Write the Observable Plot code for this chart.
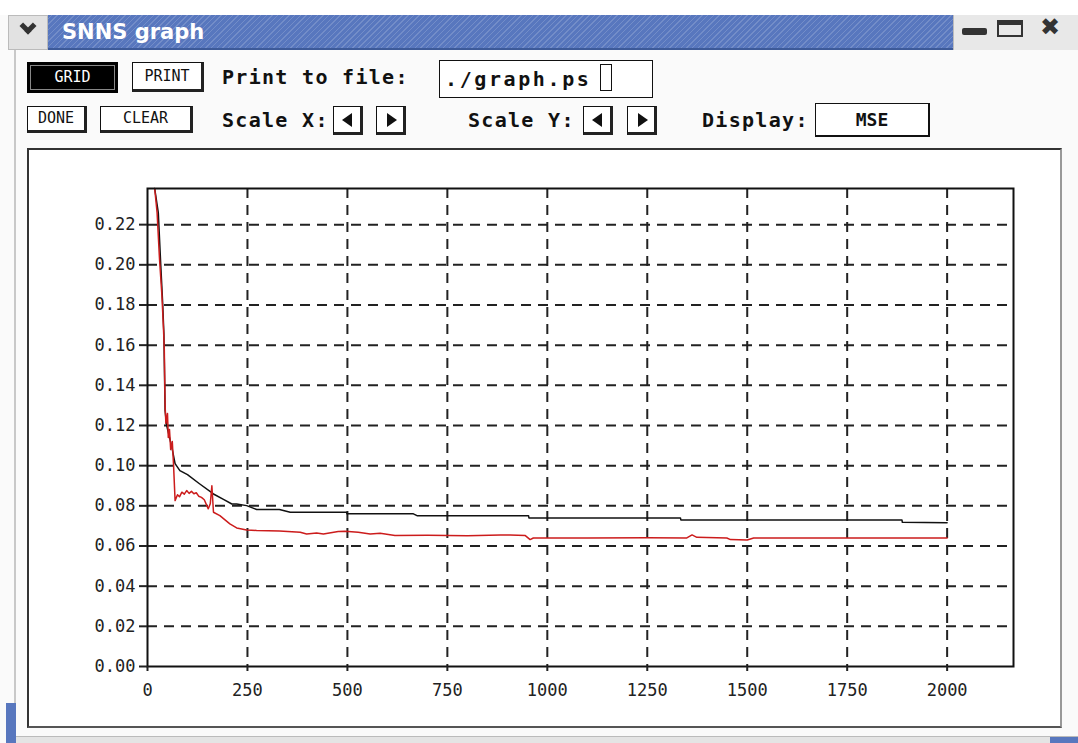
<!DOCTYPE html>
<html><head><meta charset="utf-8">
<script src="https://cdn.jsdelivr.net/npm/d3@7"></script>
<script src="https://cdn.jsdelivr.net/npm/@observablehq/plot@0.6"></script>
<style>
body{margin:0;width:1078px;height:743px;overflow:hidden;background:#fafafa;position:relative;font-family:"DejaVu Sans Mono",monospace;color:#111;}
.a{position:absolute;box-sizing:border-box;}
.btn{background:#fff;border:1px solid #111;border-right:3px solid #222;border-bottom:3px solid #222;font-family:"DejaVu Sans Mono",monospace;font-size:15px;text-align:center;}
.lbl{font-family:"DejaVu Sans Mono",monospace;font-weight:bold;font-size:20px;letter-spacing:1.3px;white-space:nowrap;}
.arrow{background:#fff;border:1px solid #111;border-right:3px solid #222;border-bottom:3px solid #222;width:30px;height:29px;}
.tri{position:absolute;top:6px;width:0;height:0;border-top:7px solid transparent;border-bottom:7px solid transparent;}
</style>
</head><body>
<!-- window chrome -->
<div class="a" style="left:0;top:0;width:1078px;height:15px;background:#fff"></div>
<div class="a" style="left:8px;top:15px;width:40px;height:35px;background:#e2e2e2;border:1px solid #bbb"></div>
<div class="a" style="left:22px;top:20px;width:12px;height:12px;border-right:5px solid #333;border-bottom:5px solid #333;transform:rotate(45deg)"></div>
<div class="a" style="left:48px;top:15px;width:905px;height:35px;background:#5877be;background-image:repeating-linear-gradient(-45deg,rgba(255,255,255,0.16) 0 1px,transparent 1px 4px);border-bottom:2px solid #3d5a99"></div>
<div class="a" style="left:62px;top:15px;height:35px;line-height:35px;font-family:'DejaVu Sans',sans-serif;font-weight:bold;font-size:21px;color:#fff">SNNS graph</div>
<div class="a" style="left:953px;top:15px;width:125px;height:35px;background:#e8e8e8;border-left:1px solid #bbb"></div>
<div class="a" style="left:962px;top:28px;width:25px;height:7px;background:#333;border-radius:2px"></div>
<div class="a" style="left:997px;top:20px;width:26px;height:17px;border:2px solid #333;border-top:5px solid #333"></div>
<div class="a" style="left:1040px;top:13px;font-family:'DejaVu Sans',sans-serif;font-size:24px;font-weight:bold;color:#333">✖</div>
<div class="a" style="left:14px;top:50px;width:2px;height:693px;background:#c8c8c8"></div>
<div class="a" style="left:6px;top:703px;width:10px;height:40px;background:#5877be"></div>
<div class="a" style="left:16px;top:736px;width:1062px;height:7px;background:#e4e4e4;border-top:1px solid #bbb"></div>
<div class="a" style="left:1050px;top:737px;width:28px;height:6px;background:#5877be"></div>

<!-- toolbar row 1 -->
<div class="a btn" style="left:27px;top:62px;width:91px;height:31px;line-height:27px;background:#000;color:#fff;border:2px solid #000;outline:1px solid #888;outline-offset:-4px">GRID</div>
<div class="a btn" style="left:132px;top:62px;width:72px;height:30px;line-height:26px">PRINT</div>
<div class="a lbl" style="left:222px;top:63px;line-height:28px">Print to file:</div>
<div class="a" style="left:439px;top:60px;width:214px;height:38px;border:1px solid #111;background:#fff"></div>
<div class="a lbl" style="left:445px;top:65px;line-height:28px;letter-spacing:2.6px">./graph.ps</div>
<div class="a" style="left:600px;top:64px;width:12px;height:27px;border:1.5px solid #111;background:#fff"></div>

<!-- toolbar row 2 -->
<div class="a btn" style="left:27px;top:106px;width:60px;height:27px;line-height:23px">DONE</div>
<div class="a btn" style="left:100px;top:106px;width:93px;height:27px;line-height:23px">CLEAR</div>
<div class="a lbl" style="left:222px;top:106px;line-height:28px">Scale X:</div>
<div class="a arrow" style="left:333px;top:106px"><div class="tri" style="left:8px;border-right:10px solid #111"></div></div>
<div class="a arrow" style="left:376px;top:106px"><div class="tri" style="left:10px;border-left:10px solid #111"></div></div>
<div class="a lbl" style="left:468px;top:106px;line-height:28px">Scale Y:</div>
<div class="a arrow" style="left:583px;top:106px"><div class="tri" style="left:8px;border-right:10px solid #111"></div></div>
<div class="a arrow" style="left:627px;top:106px"><div class="tri" style="left:10px;border-left:10px solid #111"></div></div>
<div class="a lbl" style="left:702px;top:106px;line-height:28px">Display:</div>
<div class="a" style="left:815px;top:103px;width:115px;height:34px;border:1px solid #111;border-right:2px solid #111;border-bottom:2px solid #111;background:#fff;text-align:center;line-height:31px;font-weight:bold;font-size:18px">MSE</div>

<!-- graph panel -->
<div class="a" style="left:27px;top:148px;width:1035px;height:580px;background:#fff;border:2px solid #333;border-right-color:#999;border-bottom-color:#555"></div>
<div id="chart" class="a" style="left:27px;top:148px"></div>

<script>
// ---- data ----
const xTicks = [0, 250, 500, 750, 1000, 1250, 1500, 1750, 2000];
const yTicks = [0, 0.02, 0.04, 0.06, 0.08, 0.10, 0.12, 0.14, 0.16, 0.18, 0.20, 0.22];

// black curve (MSE, training)
const blackX = [18, 27, 33, 38, 41, 44, 48, 61, 69, 81, 100, 130, 165, 190, 211, 223, 248, 273, 330, 357, 498, 499, 665, 674, 953, 954, 1333, 1334, 1887, 1888, 2000];
const blackY = [0.238, 0.226, 0.2005, 0.1806, 0.1657, 0.1274, 0.1199, 0.1091, 0.101, 0.0975, 0.0955, 0.091, 0.0859, 0.0832, 0.0809, 0.0809, 0.0801, 0.0782, 0.0782, 0.0768, 0.0768, 0.076, 0.076, 0.0751, 0.0751, 0.074, 0.074, 0.073, 0.073, 0.0718, 0.0716];

// red curve (MSE, validation)
const redX = [18, 24, 30, 36, 40, 42, 44, 46, 50, 52, 55, 58, 62, 65, 69, 75, 80, 86, 92, 98, 104, 110, 116, 122, 128, 135, 142, 152, 157, 161, 165, 181, 206, 223, 248, 273, 330, 382, 398, 423, 440, 477, 494, 527, 557, 582, 619, 700, 800, 883, 907, 945, 957, 965, 1100, 1250, 1349, 1362, 1374, 1449, 1458, 1500, 1516, 1700, 2000];
const redY = [0.238, 0.226, 0.203, 0.185, 0.168, 0.158, 0.130, 0.121, 0.126, 0.114, 0.118, 0.108, 0.112, 0.101, 0.0826, 0.0855, 0.0845, 0.0868, 0.0858, 0.0876, 0.0862, 0.0872, 0.086, 0.0865, 0.0848, 0.0842, 0.083, 0.0785, 0.081, 0.090, 0.0768, 0.0751, 0.071, 0.069, 0.068, 0.0677, 0.0675, 0.0668, 0.066, 0.0665, 0.066, 0.0672, 0.0673, 0.0668, 0.066, 0.0663, 0.0652, 0.0653, 0.0651, 0.0655, 0.0655, 0.0652, 0.0632, 0.064, 0.064, 0.0641, 0.064, 0.0655, 0.0643, 0.064, 0.0632, 0.063, 0.064, 0.064, 0.064];

const black = blackX.map((x, i) => ({x, y: blackY[i]}));
const red = redX.map((x, i) => ({x, y: redY[i]}));

const chart = Plot.plot({
  width: 1035,
  height: 580,
  marginLeft: 120,
  marginTop: 40,
  marginRight: 49,
  marginBottom: 62,
  x: {domain: [0, 2166]},
  y: {domain: [0, 0.238]},
  style: {background: "transparent", fontFamily: "'DejaVu Sans Mono', monospace", fontSize: "17px", color: "#222", overflow: "visible"},
  marks: [
    Plot.ruleY(yTicks.filter(d => d > 0), {stroke: "#222", strokeWidth: 2, strokeDasharray: "10,7"}),
    Plot.ruleX(xTicks.filter(d => d > 0), {stroke: "#222", strokeWidth: 2, strokeDasharray: "10,7"}),
    Plot.line(black, {x: "x", y: "y", stroke: "#111", strokeWidth: 1.5}),
    Plot.line(red, {x: "x", y: "y", stroke: "#cc1c1c", strokeWidth: 1.5}),
    Plot.frame({stroke: "#111", strokeWidth: 2}),
    Plot.axisY({ticks: yTicks, tickFormat: d3.format(".2f"), tickSize: 8, tickPadding: 4, strokeWidth: 2, label: null}),
    Plot.axisX({ticks: xTicks, tickFormat: d3.format("d"), tickSize: 5, tickPadding: 12, strokeWidth: 2, label: null})
  ]
});
document.getElementById("chart").appendChild(chart);
</script>
</body></html>
